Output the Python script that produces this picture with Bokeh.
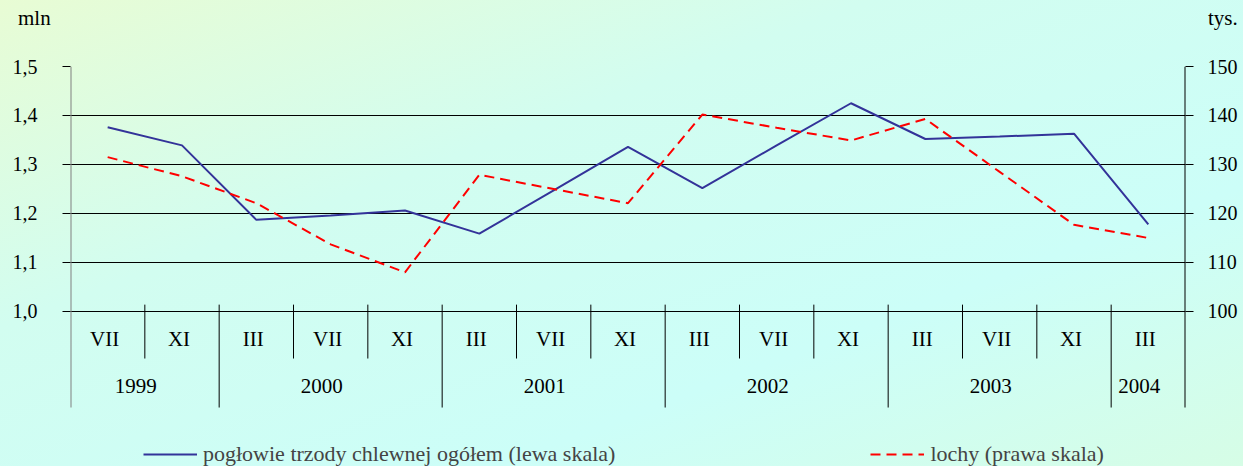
import numpy as np
from bokeh.plotting import figure
from bokeh.layouts import column
from bokeh.models import (Range1d, LinearAxis, FixedTicker, CustomJSTickFormatter, Legend,
                          LegendItem, Grid, Div, GlobalInlineStyleSheet)
from bokeh.core.properties import value
from bokeh.embed import file_html
from bokeh.resources import INLINE

# ---- data ----
months = ["VII", "XI", "III", "VII", "XI", "III", "VII", "XI", "III", "VII", "XI", "III", "VII", "XI", "III"]
years = ["1999", "2000", "2001", "2002", "2003", "2004"]
year_spans = [2, 3, 3, 3, 3, 1]
poglowie = [1.376, 1.339, 1.187, 1.196, 1.206, 1.159, 1.247, 1.336, 1.252, 1.339, 1.425, 1.352, 1.357, 1.363, 1.178]
lochy = [131.5, 127.6, 122.1, 113.7, 108.0, 127.9, 125.0, 122.1, 140.2, 137.5, 134.9, 139.3, 128.5, 117.7, 115.0]
left_ticks = [1.0, 1.1, 1.2, 1.3, 1.4, 1.5]
right_ticks = [100, 110, 120, 130, 140, 150]
label_blue = "pogłowie trzody chlewnej ogółem (lewa skala)"
label_red = "lochy (prawa skala)"
unit_left = "mln"
unit_right = "tys."

# ---- layout constants ----
FONT = value("Liberation Serif")
MONTH_ROW_Y = 0.943
YEAR_ROW_Y = 0.847
SEP_TOP = 1.014
SHORT_SEP_BOTTOM = 0.904
TABLE_BOTTOM = 0.804
Y_LEFT = (0.6816, 1.5)
Y_RIGHT = (68.16, 150)
HEAD_H = 40
HEAD_TOTAL = 49   # rendered height of the header block

n = len(months)
x = np.arange(n) + 0.5
cum = np.cumsum(year_spans)
long_b = list(cum[:-1])
short_b = [b for b in range(1, n) if b not in long_b]
year_centers = cum - np.array(year_spans) / 2.0

p = figure(width=1243, height=466 - HEAD_TOTAL, x_range=Range1d(0, n), y_range=Range1d(*Y_LEFT),
           x_axis_type=None, y_axis_type=None, output_backend="svg", toolbar_location=None,
           min_border_left=70, min_border_right=58, min_border_top=65 - HEAD_TOTAL, min_border_bottom=0)
p.border_fill_color = None
p.background_fill_color = None
p.outline_line_color = None

p.extra_y_ranges = {"right": Range1d(*Y_RIGHT)}

left = LinearAxis(ticker=FixedTicker(ticks=left_ticks),
                  formatter=CustomJSTickFormatter(code="return tick.toFixed(1).replace('.', ',');"))
right = LinearAxis(y_range_name="right", ticker=FixedTicker(ticks=right_ticks))
for ax, so in ((left, 25), (right, 14)):
    ax.axis_line_color = None
    ax.major_tick_in = 0
    ax.major_tick_out = 8
    ax.major_tick_line_color = "black"
    ax.minor_tick_line_color = None
    ax.major_label_text_font = "Liberation Serif"
    ax.major_label_text_font_size = "20px"
    ax.major_label_text_color = "black"
    ax.major_label_standoff = so
p.add_layout(left, "left")
p.add_layout(right, "right")

p.add_layout(Grid(dimension=1, ticker=left.ticker, grid_line_color="black", grid_line_width=1))

# side lines of the chart (axis lines ending at the bottom of the category table)
p.segment(x0=[0, n], y0=[TABLE_BOTTOM] * 2, x1=[0, n], y1=[Y_LEFT[1]] * 2,
          line_color=["#808080", "black"], line_width=2)

# category table
p.segment(x0=short_b, y0=[SEP_TOP] * len(short_b), x1=short_b, y1=[SHORT_SEP_BOTTOM] * len(short_b),
          line_color="black", line_width=1)
p.segment(x0=long_b, y0=[SEP_TOP] * len(long_b), x1=long_b, y1=[TABLE_BOTTOM] * len(long_b),
          line_color="black", line_width=1)
p.text(x=x, y=[MONTH_ROW_Y] * n, text=months, text_font=FONT, text_font_size="21px",
       text_align="center", text_baseline="middle", x_offset=-3, text_color="black")
p.text(x=year_centers, y=[YEAR_ROW_Y] * len(years), text=years, text_font=FONT, text_font_size="21px",
       text_align="center", text_baseline="middle", x_offset=-9, text_color="black")

# series
r_blue = p.line(x, poglowie, line_color="#333399", line_width=2)
r_red = p.line(x, lochy, y_range_name="right", line_color="#ff0000", line_width=2, line_dash="10 6")

legend = Legend(items=[LegendItem(label=label_blue, renderers=[r_blue]),
                       LegendItem(label=label_red, renderers=[r_red])],
                orientation="horizontal", location=(73, 0), spacing=255,
                glyph_width=54, glyph_height=20, label_standoff=6, padding=0, margin=0,
                label_text_font="Liberation Serif", label_text_font_size="22px",
                label_text_baseline="middle",
                background_fill_alpha=0, border_line_alpha=0)
p.add_layout(legend)

head = Div(width=1243, height=HEAD_H, text=(
    '<div style="position:relative;width:1243px;height:%dpx;font-family:\'Liberation Serif\';'
    'font-size:21px;color:black;line-height:1">'
    '<span style="position:absolute;left:13px;top:3px">%s</span>'
    '<span style="position:absolute;left:1203px;top:3px">%s</span></div>') % (HEAD_H, unit_left, unit_right))

page = column(head, p, spacing=0)
page.stylesheets = [GlobalInlineStyleSheet(css=(
    "html{min-height:100%;background:linear-gradient(to bottom right,"
    "#e8fcd4 0%,#d2fdf0 35%,#ccfef8 70%,#d6fde6 100%);}"))]

open("out.html", "w").write(file_html(page, INLINE))
